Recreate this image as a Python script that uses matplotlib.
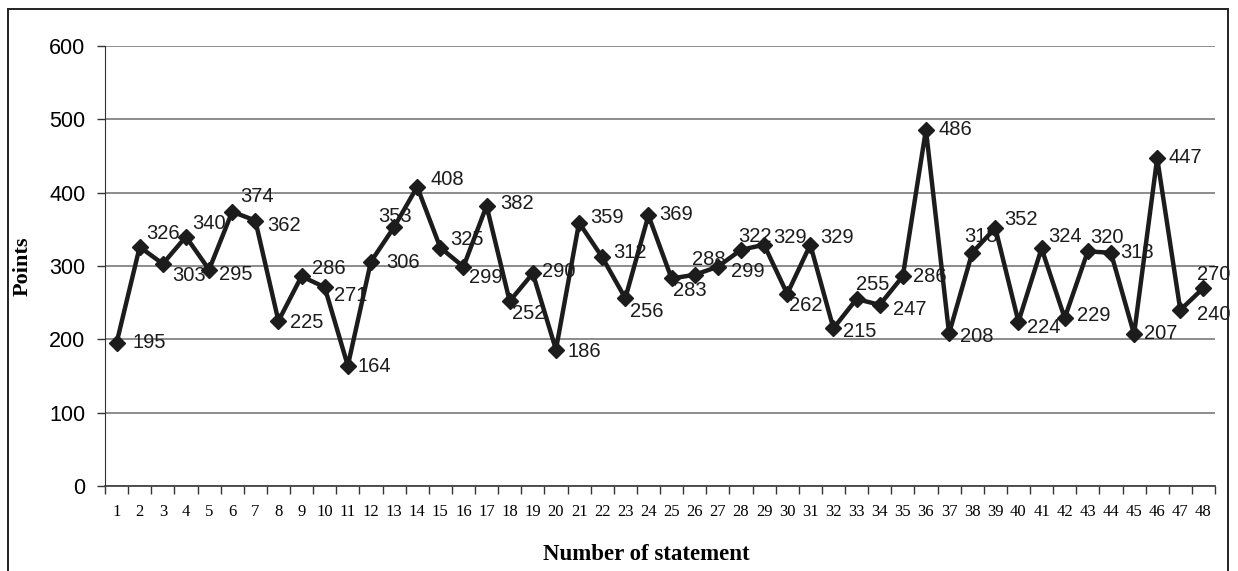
import numpy as np
import matplotlib.pyplot as plt
from matplotlib.patches import Rectangle
from matplotlib.ticker import MultipleLocator, FixedLocator

# points scored per statement
statements = np.arange(1, 49)
points = [195, 326, 303, 340, 295, 374, 362, 225, 286, 271, 164, 306, 353, 408, 325, 299,
          382, 252, 290, 186, 359, 312, 256, 369, 283, 288, 299, 322, 329, 262, 329, 215,
          255, 247, 286, 486, 208, 318, 352, 224, 324, 229, 320, 318, 207, 447, 240, 270]

# where each value label sits relative to its marker (pixels, right / down)
label_shift = [(16, -1), (7, -13), (9, 12), (6, -13), (10, 5), (8, -15), (12, 5), (12, 2),
               (10, -8), (9, 8), (10, 1), (15, 1), (-16, -11), (13, -7), (10, -8), (6, 11),
               (14, -2), (2, 12), (9, -2), (12, 2), (11, -5), (11, -5), (5, 13), (11, -1),
               (1, 12), (-3, -15), (13, 5), (-3, -13), (9, -7), (2, 12), (10, -7), (10, 3),
               (-1, -14), (13, 5), (10, 0), (13, 0), (11, 3), (-8, -16), (9, -8), (9, 6),
               (7, -12), (12, -3), (2, -14), (9, 0), (10, -1), (11, -1), (17, 4), (-6, -13)]

W, H = 1238, 571
fig = plt.figure(figsize=(W / 100, H / 100), dpi=100)
ax = fig.add_axes([105 / W, 1 - 486 / H, 1110 / W, 440 / H])

# outer chart frame
fig.patches.append(Rectangle((8 / W, -0.02), 1220 / W, 1.02 - 9 / H, transform=fig.transFigure,
                             fill=False, edgecolor='#222222', linewidth=1.4))

ax.plot(statements, points, color='#1c1c1c', linewidth=3.2, marker='D',
        markersize=8.2, markerfacecolor='#1c1c1c', markeredgecolor='#1c1c1c', zorder=3)

for x, y, (dx, dy) in zip(statements, points, label_shift):
    ax.annotate(str(y), (x, y), xytext=(dx, -dy), textcoords='offset pixels',
                ha='left', va='center', fontsize=14.5, family='Liberation Sans',
                color='#1c1c1c', zorder=4)

ax.set_xlim(0.5, 48.5)
ax.set_ylim(0, 600)
ax.yaxis.set_major_locator(MultipleLocator(100))
ax.grid(axis='y', color='#6e6e6e', linewidth=1.1)
ax.set_axisbelow(True)

ax.set_xticks(statements)
ax.xaxis.set_minor_locator(FixedLocator(np.arange(0.5, 49, 1)))
ax.tick_params(axis='x', which='major', length=0, pad=13)
ax.tick_params(axis='x', which='minor', length=6, width=1, color='#333333', direction='out')
ax.tick_params(axis='y', length=6, width=1, color='#333333', pad=8)
for lab in ax.get_xticklabels():
    lab.set_family('Liberation Serif')
    lab.set_fontsize(12)
for lab in ax.get_yticklabels():
    lab.set_family('Liberation Sans')
    lab.set_fontsize(15.5)

for side in ('top', 'right'):
    ax.spines[side].set_visible(False)
ax.spines['left'].set_color('#333333')
ax.spines['bottom'].set_color('#444444')
ax.spines['bottom'].set_linewidth(1.3)

ax.set_ylabel('Points', family='Liberation Serif', fontweight='bold', fontsize=16)
ax.yaxis.set_label_coords(-72 / 1110, 0.5)
ax.set_xlabel('Number of statement', family='Liberation Serif', fontweight='bold', fontsize=16.5)
ax.xaxis.set_label_coords(0.488, -58 / 440)

fig.savefig('out.png', dpi=100)
